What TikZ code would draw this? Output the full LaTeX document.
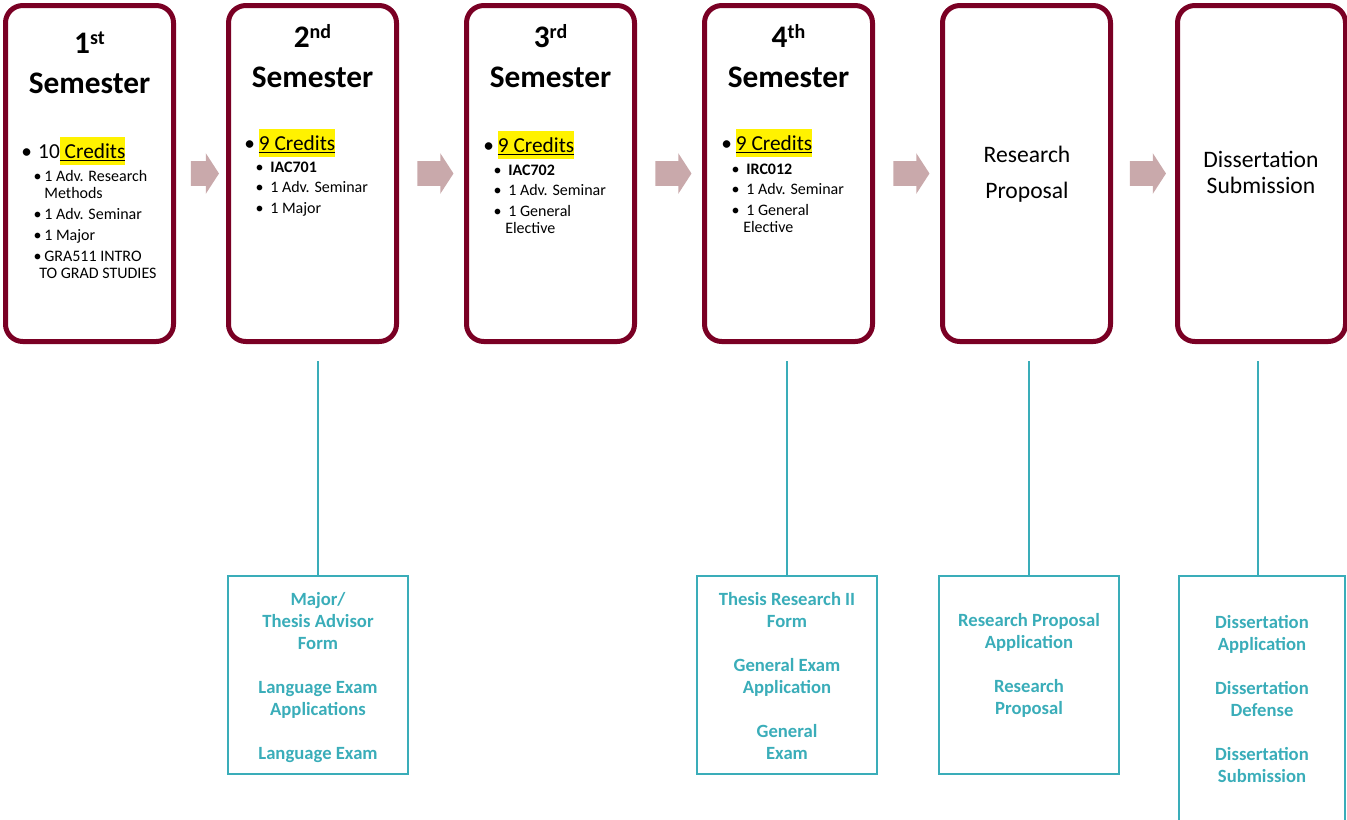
\documentclass[tikz,border=0pt]{standalone}
\usepackage{fontspec}
\setmainfont{Carlito}
\usetikzlibrary{positioning,calc,shapes.arrows}

\definecolor{semred}{RGB}{122,0,36}
\definecolor{formteal}{RGB}{58,173,185}
\definecolor{flowpink}{RGB}{201,169,171}

\newcommand\hl[1]{{\setlength\fboxsep{0pt}\colorbox{yellow}{\rule[-5pt]{0pt}{20.5pt}\underline{#1}}}}
\newcommand\sups[1]{\raisebox{6.75pt}{\fontsize{15}{15}\selectfont #1}}
\newcommand\dotbox[1]{\makebox[#1][l]{\textbullet}}

\begin{document}
\begin{tikzpicture}[x=0.75pt,y=-0.75pt,
    sem box/.style={draw=semred,line width=3.75pt,rounded corners=13pt,minimum width=126pt,minimum height=252pt,inner sep=0},
    form box/.style={draw=formteal,line width=1.5pt,minimum width=135pt,minimum height=148.5pt,inner sep=0},
    flow/.style={single arrow,fill=flowpink,inner xsep=0,inner ysep=9pt,single arrow head extend=6pt,single arrow tip angle=114,minimum height=27pt},
    link/.style={draw=formteal,line width=1.5pt},
    head/.style={font=\fontsize{23.5}{30}\selectfont\bfseries,align=center,anchor=base,inner sep=0},
    credit/.style={font=\fontsize{16}{19}\selectfont,anchor=base west,inner sep=0},
    list/.style={font=\fontsize{12}{12.75}\selectfont,align=left,anchor=base west,inner sep=0},
    big/.style={font=\fontsize{17.7}{27}\selectfont,align=center,anchor=base,inner sep=0},
    todo/.style={font=\fontsize{14}{16.5}\selectfont\bfseries,text=formteal,align=center,anchor=base,inner sep=0}]
  \useasboundingbox (0,0) rectangle (1347,819);
  \clip (0,0) rectangle (1347,819);

  % semesters
  \node[sem box] (s1) at (89.5,173.5) {};
  \node[sem box] (s2) at (312.5,173.5) {};
  \node[sem box] (s3) at (550.5,173.5) {};
  \node[sem box] (s4) at (788.5,173.5) {};
  \node[sem box] (s5) at (1026.5,173.5) {};
  \node[sem box] (s6) at (1261.5,173.5) {};

  \node[flow,minimum height=21pt] (a1) at ($(s1.east)!0.5!(s2.west)$) {};
  \node[flow] (a2) at ($(s2.east)!0.5!(s3.west)$) {};
  \node[flow] (a3) at ($(s3.east)!0.5!(s4.west)$) {};
  \node[flow] (a4) at ($(s4.east)!0.5!(s5.west)$) {};
  \node[flow] (a5) at ($(s5.east)!0.5!(s6.west)$) {};

  % multi-line nodes sit on their last baseline
  \node[head] (h1) at (89.5,93) {1\sups{st}\\Semester};
  \node[head] (h2) at (312.5,87) {2\sups{nd}\\Semester};
  \node[head] (h3) at (550.5,87) {3\sups{rd}\\Semester};
  \node[head] (h4) at (788.5,87) {4\sups{th}\\Semester};

  \node[credit] (c1) at (21,158) {\dotbox{12.75pt}10\hl{\ Credits}};
  \node[credit] (c2) at (244,150) {\dotbox{11pt}\hl{9 Credits}};
  \node[credit] (c3) at (483,152) {\dotbox{11pt}\hl{9 Credits}};
  \node[credit] (c4) at (721,150) {\dotbox{11pt}\hl{9 Credits}};

  \node[list] (l1) at (33.4,278) {\dotbox{8pt}1 Adv. Research\\ \hspace*{8pt}Methods\\[2.9pt]
    \dotbox{8pt}1 Adv. Seminar\\[2.9pt]\dotbox{8pt}1 Major\\[2.9pt]
    \dotbox{8pt}GRA511 INTRO\\ \hspace*{4.2pt}TO GRAD STUDIES};
  \node[list] (l2) at (255.4,213) {\dotbox{11pt}\textbf{IAC701}\\[2.6pt]
    \dotbox{11pt}1 Adv. Seminar\\[2.6pt]\dotbox{11pt}1 Major};
  \node[list] (l3) at (493.4,233) {\dotbox{11pt}\textbf{IAC702}\\[2.6pt]
    \dotbox{11pt}1 Adv. Seminar\\[2.6pt]\dotbox{11pt}1 General\\ \hspace*{8.7pt}Elective};
  \node[list] (l4) at (731.4,232) {\dotbox{11pt}\textbf{IRC012}\\[2.6pt]
    \dotbox{11pt}1 Adv. Seminar\\[2.6pt]\dotbox{11pt}1 General\\ \hspace*{8.7pt}Elective};

  \node[big] (p5) at (1027,198) {Research\\Proposal};
  \node[big,font=\fontsize{17.7}{19.5}\selectfont] (p6) at (1261,193) {Dissertation\\Submission};

  % forms below
  \node[form box] (f1) at (318,675) {};
  \node[form box] (f2) at (787,675) {};
  \node[form box] (f3) at (1029,675) {};
  \node[form box,minimum width=124.5pt,minimum height=225pt] (f4) at (1262,726) {};

  \draw[link] (f1.north) -- ++(0,-214);
  \draw[link] (f2.north) -- ++(0,-214);
  \draw[link] (f3.north) -- ++(0,-214);
  \draw[link] ([xshift=-3pt]f4.north) -- ++(0,-214);

  \node[todo] (t1) at (318,759) {Major/\\Thesis Advisor\\Form\\[16.5pt]Language Exam\\Applications\\[16.5pt]Language Exam};
  \node[todo] (t2) at (787,759) {Thesis Research II\\Form\\[16.5pt]General Exam\\Application\\[16.5pt]General\\Exam};
  \node[todo] (t3) at (1029,714) {Research Proposal\\Application\\[16.5pt]Research\\Proposal};
  \node[todo] (t4) at (1262,782) {Dissertation\\Application\\[16.5pt]Dissertation\\Defense\\[16.5pt]Dissertation\\Submission};
\end{tikzpicture}
\end{document}
